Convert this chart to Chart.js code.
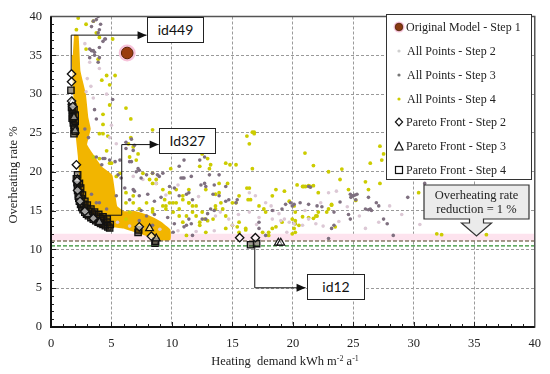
<!DOCTYPE html>
<html>
<head>
<meta charset="utf-8">
<script src="https://cdn.jsdelivr.net/npm/chart.js@4.4.1/dist/chart.umd.min.js"></script>
<style>
  body { margin: 0; background: #fff; }
  #wrap { position: relative; width: 550px; height: 374px; overflow: hidden; }
  #c { position: absolute; left: 0; top: 0; }
  .serif { font-family: "Liberation Serif", serif; color: #222; }
  .idbox { position: absolute; background: #fff; border: 1.3px solid #222; box-sizing: border-box;
    font-family: Lato, sans-serif; font-size: 14px; color: #111; text-align: center; }
  #legend { position: absolute; left: 386px; top: 14px; width: 146px; height: 166px; background: #fff;
    border: 1.5px solid #333; box-sizing: border-box; font-size: 12px; }
  #legend .row { position: absolute; left: 0; height: 16px; line-height: 16px; white-space: nowrap; }
  #legend svg { position: absolute; left: 6px; top: 2px; }
  #legend span { position: absolute; left: 19px; top: 0; }
  .ytitle { position: absolute; left: -57px; top: 167px; width: 140px; height: 16px; line-height: 16px;
    text-align: center; transform: rotate(-90deg); transform-origin: 70px 8px;
    font-size: 12.5px; white-space: nowrap; }
  .xtitle { position: absolute; left: 185px; top: 353px; width: 200px; height: 16px; line-height: 16px;
    text-align: center; font-size: 12.5px; white-space: nowrap; }
  sup { font-size: 8px; vertical-align: 4px; line-height: 0; }
</style>
</head>
<body>
<div id="wrap">
<canvas id="c" width="550" height="374"></canvas>

<div class="idbox" style="left:147px;top:17px;width:57px;height:26px;line-height:24px;">id449</div>
<div class="idbox" style="left:159px;top:128px;width:57px;height:26px;line-height:24px;">Id327</div>
<div class="idbox" style="left:307px;top:274px;width:58px;height:26px;line-height:24px;">id12</div>

<svg style="position:absolute;left:420px;top:182px;" width="115" height="60">
  <path d="M4,3 H109 V37 H63.5 V41 H71.5 L56.5,54 L41.5,41 H49.5 V37 H4 Z" fill="#ebebeb" stroke="#333" stroke-width="1.2"/>
</svg>
<div class="serif" style="position:absolute;left:424px;top:188px;width:105px;text-align:center;font-size:12.5px;line-height:14px;">Overheating rate<br>reduction = 1 %</div>

<div id="legend" class="serif">
  <div class="row" style="top:4px"><svg width="12" height="12"><circle cx="6" cy="6" r="5.5" fill="#f7c6dc"/><circle cx="6" cy="6" r="3.8" fill="#8a3a10" stroke="#4a2008" stroke-width="0.8"/></svg><span>Original Model - Step 1</span></div>
  <div class="row" style="top:28px"><svg width="12" height="12"><circle cx="6" cy="6" r="1.6" fill="#cfcfcf"/></svg><span style="left:20px">All Points - Step 2</span></div>
  <div class="row" style="top:52px"><svg width="12" height="12"><circle cx="6" cy="6" r="1.6" fill="#777"/></svg><span style="left:20px">All Points - Step 3</span></div>
  <div class="row" style="top:76px"><svg width="12" height="12"><circle cx="6" cy="6" r="1.6" fill="#cccc00"/></svg><span style="left:20px">All Points - Step 4</span></div>
  <div class="row" style="top:99px"><svg width="12" height="12"><path d="M6,2.2 L9.6,6 L6,9.8 L2.4,6 Z" fill="#fff" stroke="#111" stroke-width="1.2"/></svg><span>Pareto Front - Step 2</span></div>
  <div class="row" style="top:123px"><svg width="12" height="12"><path d="M6,2 L10,10 L2,10 Z" fill="#fff" stroke="#111" stroke-width="1.2"/></svg><span>Pareto Front - Step 3</span></div>
  <div class="row" style="top:147px"><svg width="12" height="12"><rect x="2.5" y="2.5" width="7" height="7" fill="#fff" stroke="#111" stroke-width="1.2"/></svg><span>Pareto Front - Step 4</span></div>
</div>

<div class="serif ytitle">Overheating rate %</div>
<div class="serif xtitle">Heating&nbsp; demand kWh m<sup>-2</sup> a<sup>-1</sup></div>
</div>

<script>
// values, [heating demand, overheating rate]
const originalModel = [[6.3, 35.3]];

// outline of the dense orange cloud of step 4 points
const step4Dense = [
  [1.9, 37.5], [2.2, 37.5], [2.35, 33], [2.8, 30], [3.0, 27], [3.2, 25.5], [2.9, 23.5], [3.5, 22],
  [4.2, 20.5], [5.0, 19.5], [5.2, 17.5], [5.4, 15.5], [6.0, 14.8], [7.0, 14.8], [8.0, 14.3],
  [9.0, 13.5], [9.8, 12.5], [9.8, 11.3], [8.8, 11.3], [8.0, 11.8], [7.0, 12.3], [6.0, 12.8],
  [5.0, 13.0], [4.4, 13.2], [3.5, 14.0], [3.0, 15.0], [2.6, 17.0], [2.4, 19.5], [2.3, 22],
  [2.1, 25], [2.0, 28], [1.85, 32], [1.8, 35]
];

const step4Points = [
  [2.25,39.8],[2.1,38.3],[3.5,39.4],[2.9,39.0],[3.75,37.9],[4.0,37.3],[5.1,37.1],[2.9,35.8],[3.9,34.5],[4.6,32.4],
  [5.3,32.4],[4.2,31.8],[4.85,31.2],[6.2,28.2],[6.6,26.8],[8.4,25.4],[6.6,24.4],[6.4,23.6],[4.85,28.6],[4.3,27.4],
  [4.3,26.1],[4.0,24.9],[4.6,22.7],[5.0,21.1],[9.9,20.4],[12.3,20.7],[12.5,22.3],[12.95,21.7],[14.45,21.1],[15.3,20.9],
  [16.2,24.6],[16.65,25.1],[16.8,25.1],[16.65,20.4],[11.4,17.7],[13.9,18.5],[16.8,24.9],[16.4,23.6],[13.2,20.9],[13.1,20.4],
  [14.8,20.9],[14.6,18.5],[13.6,17.1],[13.9,17.3],[16.4,17.9],[16.3,16.4],[16.5,16.4],[15.3,16.0],[17.2,15.6],[17.6,15.2],
  [17.75,14.8],[19.3,17.5],[19.7,16.2],[20.1,15.6],[20.2,14.8],[19.1,13.5],[18.6,12.9],[18.3,12.7],[18.0,12.2],[15.4,12.9],
  [15.55,12.2],[16.1,12.5],[12.3,13.5],[12.7,13.9],[12.95,13.7],[13.6,15.6],[14.05,16.0],[14.2,15.2],[10.9,16.4],[10.35,16.0],
  [11.4,16.0],[8.4,19.8],[8.7,19.0],[8.4,18.5],[9.4,16.4],[9.8,16.0],[9.25,15.6],[9.5,15.2],[11.7,14.8],[12.0,14.3],
  [10.6,14.3],[10.9,13.5],[14.45,12.7],[20.2,12.2],[19.95,12.0],[21.0,22.4],[21.7,20.8],[22.95,20.0],[24.05,20.35],[23.9,19.0],
  [26.0,18.7],[26.4,21.1],[27.2,23.3],[27.5,22.3],[27.35,21.5],[27.2,18.5],[30.4,17.3],[20.8,18.1],[21.05,18.1],[20.35,18.3],
  [22.1,17.3],[25.2,16.3],[23.2,15.8],[19.95,13.9],[20.2,13.7],[20.1,12.7],[21.3,14.1],[21.7,14.0],[22.1,14.8],[22.0,14.3],
  [22.8,14.8],[31.9,12.0],[32.3,11.9],[36.0,11.9],[18.6,17.7],[18.3,16.9],[20.9,18.1],[21.3,18.2],[21.45,18.1],[21.7,18.2],
  [23.2,15.7],[22.95,15.2],[21.9,14.3],[20.8,14.2],[23.5,12.9],[20.2,13.3],[20.5,13.1],[26.25,17.7],[24.6,17.7],[6.2,16.0],
  [6.8,16.9],[7.9,16.0],[8.4,15.2],[10.1,16.0],[10.6,15.2],[11.2,14.3],[11.7,15.6],[12.5,14.8],[13.4,13.9],[13.6,15.2],
  [14.45,14.3],[15.55,13.5],[16.1,12.7],[17.5,12.2],[18.0,11.8],[11.2,11.8],[12.3,13.1],[12.8,12.2],[15.0,13.1],[12.8,17.7],
  [15.0,16.0],[15.55,16.9],[16.2,17.9],[4.3,24.9],[4.7,24.6],[3.5,21.9],[4.0,21.7],[4.85,21.1],[5.4,19.4],[5.7,19.8],
  [6.5,21.9],[6.8,23.2],[7.05,21.5],[7.2,22.3],[7.6,19.8],[8.15,19.0],[8.7,18.5],[9.25,17.7],[9.8,17.3],[10.35,17.7],
  [10.9,16.9],[11.4,16.0],[12.0,15.6],[6.2,17.3],[6.8,16.0],[7.3,15.2],[6.5,14.8],[6.2,13.9],[8.4,14.8],[9.5,15.6],[10.1,14.8]
];

const step3Points = [
  [3.9,40],[4.1,39.0],[3.75,39.6],[4.5,37.1],[3.2,35.8],[3.5,35.6],[3.6,35.0],[4.0,34.7],[3.9,34.1],[4.0,36.0],
  [5.1,29.3],[3.75,21.9],[4.3,21.7],[6.2,23.0],[6.8,22.75],[5.7,21.5],[6.5,21.3],[7.05,20.0],[7.3,20.2],[7.9,19.6],
  [8.4,19.8],[8.95,19.4],[9.25,19.8],[10.6,20.7],[11.0,21.5],[12.3,21.5],[12.7,21.9],[13.1,19.6],[13.5,18.3],[13.9,19.6],
  [10.75,19.2],[11.0,19.2],[14.45,18.1],[8.8,19.6],[11.6,19.4],[12.4,18.3],[12.8,18.1],[12.7,18.5],[11.2,17.1],[11.4,17.3],
  [13.4,17.1],[14.45,16.2],[15.3,16.0],[15.4,16.4],[13.2,15.2],[13.5,15.0],[12.95,14.6],[12.5,13.9],[11.4,13.9],[11.6,13.3],
  [11.0,12.9],[18.3,15.0],[19.1,15.2],[19.4,15.8],[19.8,16.0],[19.95,15.6],[17.2,13.5],[10.9,19.2],[9.8,18.1],[10.2,17.9],
  [20.1,15.8],[20.6,16.0],[21.3,18.1],[21.45,18.0],[22.0,15.6],[22.4,15.5],[23.4,14.8],[23.9,16.1],[24.75,17.1],[25.0,16.9],
  [25.3,17.1],[25.2,16.4],[26.25,16.7],[26.9,16.0],[27.1,15.6],[26.0,15.2],[26.25,15.1],[26.4,15.2],[26.5,15.0],[24.6,14.5],
  [24.75,13.9],[23.4,13.1],[23.2,12.7],[28.3,11.8],[29.5,16.7],[30.9,18.5],[22.95,11.4],[24.9,16.9],[25.15,17.0],[24.8,16.7],
  [21.3,15.8],[27.5,13.9],[27.8,13.3],[4.0,16.0],[4.6,15.2],[5.4,16.9],[6.8,17.7],[7.3,16.9],[6.5,16.4],[10.6,16.9],
  [11.7,16.4],[12.8,13.9],[13.9,16.9],[14.7,16.4],[10.1,12.2],[11.2,13.1],[11.7,11.8],[17.2,12.7],[17.75,11.8],[7.3,13.7],
  [7.9,14.3],[8.4,13.1],[4.2,20.9],[4.45,21.7],[4.85,21.5],[3.35,17.1],[3.75,16.0],[3.6,15.0],[5.3,21.3],[5.55,19.6],
  [5.8,19.2],[6.2,23.8],[6.65,24.2],[6.9,23.4],[6.65,21.3],[7.2,20.4],[7.45,19.2],[6.1,17.9],[6.9,17.5],[8.0,17.1],
  [8.55,16.2],[9.1,16.7],[7.45,15.0],[8.55,14.5],[9.65,14.1],[10.2,13.3],[3.35,38.7],[3.5,39.4],[4.0,38.3],[3.9,37.9],
  [4.45,37.1],[4.3,36.8],[3.35,35.6],[3.6,35.4],[3.2,34.7],[3.6,28.0],[3.75,26.8],[2.8,25.5],[3.1,24.4]
];

const step2Points = [
  [18.4,15.0],[18.85,14.6],[19.3,13.9],[19.7,13.5],[20.1,13.3],[20.8,13.1],[21.3,13.9],[21.9,13.3],[28.0,15.6],[27.1,13.5],
  [26.0,12.7],[22.95,17.3],[23.6,17.5],[19.5,12.2],[16.4,17.3],[16.9,16.9],[17.75,16.0],[18.2,15.6],[16.4,14.8],[17.2,14.1],
  [18.3,13.9],[19.0,13.7],[13.6,14.3],[14.7,13.9],[15.0,13.1],[3.2,34.1],[4.0,33.3],[2.9,30.3],[3.5,29.5],[4.85,24.4],
  [5.4,23.6],[6.8,19.4],[7.6,19.0],[8.7,18.5],[5.5,13.5],[6.5,13.0],[7.5,12.8],[9.0,12.6],[10.5,12.4],[12.0,12.3],
  [13.5,12.4],[22.5,13.0],[23.8,13.6],[24.5,15.5],[25.5,14.3],[29.0,14.5],[30.5,13.2],[3.0,32.0],[3.3,31.0],[2.8,36.5],
  [4.6,30.0],[5.0,26.0],[9.5,17.0],[10.5,18.3],[12.2,16.8],[14.0,14.8],[15.5,14.5],[17.0,13.2],[21.0,15.0],[22.3,16.0]
];

const paretoStep2 = [
  [1.7,32.6],[1.7,31.6],[1.7,29.1],[1.8,28.4],[2.1,20.9],[2.15,18.8],[2.2,17.6],[2.4,16.2],[2.8,14.9],[3.5,14.0],
  [7.3,12.9],[8.3,11.7],[15.6,11.5],[16.9,11.5]
];
const paretoStep3 = [
  [1.75,29.0],[1.9,27.0],[2.0,25.3],[2.2,19.0],[2.3,16.8],[3.0,14.5],[4.0,13.5],[8.15,12.7],[8.7,11.4],[18.8,10.85],[19.0,10.85]
];
const paretoStep4 = [
  [1.65,30.5],[1.7,28.3],[1.75,27.9],[1.8,27.5],[1.8,27.1],[1.85,26.7],[1.85,26.3],[1.9,25.9],[1.95,25.5],[2.0,25.2],
  [1.9,28.0],[2.0,27.3],[2.0,26.5],[1.75,26.9],[1.9,24.9],[2.2,19.6],[2.1,19.1],[2.15,18.6],[2.2,18.1],[2.2,17.6],
  [2.25,17.1],[2.3,16.6],[2.35,16.2],[2.45,15.8],[2.55,15.4],[2.65,15.1],[2.8,14.8],[2.95,14.55],[3.1,14.35],[3.3,14.1],
  [3.5,13.9],[3.7,13.7],[3.9,13.5],[4.1,13.35],[4.3,13.2],[4.5,13.05],[4.7,12.9],[4.85,12.75],[2.4,17.3],[2.5,16.5],
  [2.7,15.8],[2.9,15.3],[3.15,14.9],[3.45,14.55],[3.75,14.25],[4.05,14.0],[4.35,13.75],[4.65,13.5],[4.9,13.2],[2.35,18.5],
  [2.45,17.9],[2.6,17.0],[2.8,16.2],[3.0,15.7],[3.3,15.2],[3.6,14.8],[3.95,14.5],[4.3,14.2],[4.65,13.9],
  [7.2,12.2],[7.25,12.5],[8.6,10.8],[8.65,11.05],[16.5,10.6],[17.0,10.75]
];

// 1 % reduction band and reference lines
const bandTop = 12.0, bandBottom = 11.1;
const refLineA = 11.08, refLineB = 10.45;

const xy = arr => arr.map(p => ({ x: p[0], y: p[1] }));
const hline = v => [{ x: 0, y: v }, { x: 40, y: v }];

// minor ticks, frame and the callout connectors
const decor = {
  id: 'decor',
  afterDraw(chart) {
    const ctx = chart.ctx, a = chart.chartArea;
    const xs = chart.scales.x, ys = chart.scales.y;
    ctx.save();
    ctx.strokeStyle = '#222';
    ctx.lineWidth = 1;
    for (let v = 1; v < 40; v++) {
      const len = v % 5 === 0 ? 5 : 3;
      const px = Math.round(xs.getPixelForValue(v)) + 0.5;
      ctx.beginPath(); ctx.moveTo(px, a.bottom); ctx.lineTo(px, a.bottom - len); ctx.stroke();
      const py = Math.round(ys.getPixelForValue(v)) + 0.5;
      ctx.beginPath(); ctx.moveTo(a.left, py); ctx.lineTo(a.left + len, py); ctx.stroke();
    }
    ctx.strokeStyle = '#555';
    ctx.lineWidth = 1.5;
    ctx.strokeRect(a.left, a.top, a.right - a.left, a.bottom - a.top);
    ctx.strokeStyle = '#111';
    ctx.lineWidth = 2;
    ctx.beginPath(); ctx.moveTo(a.left, a.top); ctx.lineTo(a.left, a.bottom); ctx.lineTo(a.right, a.bottom); ctx.stroke();

    const paths = [
      [[1.67, 33.0], [1.67, 37.6], [7.9, 37.6]],
      [[3.8, 14.4], [5.85, 14.4], [5.85, 23.5], [8.9, 23.5]],
      [[16.85, 10.6], [16.85, 5.05], [21.05, 5.05]]
    ];
    ctx.strokeStyle = '#111';
    ctx.fillStyle = '#111';
    ctx.lineWidth = 1;
    paths.forEach(p => {
      const pts = p.map(q => [xs.getPixelForValue(q[0]), ys.getPixelForValue(q[1])]);
      ctx.beginPath();
      pts.forEach((q, i) => i ? ctx.lineTo(q[0], q[1]) : ctx.moveTo(q[0], q[1]));
      ctx.stroke();
      const e = pts[pts.length - 1];
      ctx.beginPath();
      ctx.moveTo(e[0], e[1]); ctx.lineTo(e[0] - 9, e[1] - 4); ctx.lineTo(e[0] - 9, e[1] + 4); ctx.closePath();
      ctx.fill();
    });
    ctx.restore();
  }
};

const axisFont = { family: "'Liberation Serif', serif", size: 12.5 };

new Chart(document.getElementById('c'), {
  type: 'scatter',
  data: {
    datasets: [
      { label: 'band', type: 'line', data: hline(bandTop), fill: { value: bandBottom },
        backgroundColor: '#fde3ee', borderWidth: 0, pointRadius: 0, order: 20 },
      { label: 'Step 4 dense', type: 'line', data: xy(step4Dense), fill: 'shape', tension: 0.1,
        backgroundColor: '#f2b500', borderColor: '#f2b500', borderWidth: 2, pointRadius: 0, order: 19 },
      { label: 'All Points - Step 4', data: xy(step4Points), backgroundColor: '#cccc00', borderWidth: 0,
        pointRadius: 1.9, order: 18 },
      { label: 'All Points - Step 2', data: xy(step2Points), backgroundColor: '#dcc8d5', borderWidth: 0,
        pointRadius: 1.8, order: 17 },
      { label: 'All Points - Step 3', data: xy(step3Points), backgroundColor: '#7f7080', borderWidth: 0,
        pointRadius: 1.8, order: 16 },
      { label: 'refA', type: 'line', data: hline(refLineA), borderColor: '#4a3c1c', borderWidth: 1.2,
        borderDash: [4, 2], pointRadius: 0, fill: false, order: 15 },
      { label: 'refB', type: 'line', data: hline(refLineB), borderColor: '#2f8f2f', borderWidth: 1.2,
        borderDash: [4, 2], pointRadius: 0, fill: false, order: 14 },
      { label: 'Pareto Front - Step 4', data: xy(paretoStep4), pointStyle: 'rect', pointRadius: 4.5,
        backgroundColor: 'rgba(40,28,10,0.45)', borderColor: '#111', borderWidth: 1.3, order: 4 },
      { label: 'Pareto Front - Step 3', data: xy(paretoStep3), pointStyle: 'triangle', pointRadius: 4.5,
        backgroundColor: 'rgba(255,255,255,0.5)', borderColor: '#111', borderWidth: 1.2, order: 3 },
      { label: 'Pareto Front - Step 2', data: xy(paretoStep2), pointStyle: 'rectRot', pointRadius: 4.2,
        backgroundColor: 'rgba(255,255,255,0.6)', borderColor: '#111', borderWidth: 1.3, order: 2 },
      { label: 'halo', data: xy(originalModel), backgroundColor: '#f7c3da', borderWidth: 0,
        pointRadius: 8.5, order: 1 },
      { label: 'Original Model - Step 1', data: xy(originalModel), backgroundColor: '#9a3c0e',
        borderColor: '#5a2306', borderWidth: 1, pointRadius: 5.8, order: 0 }
    ]
  },
  options: {
    responsive: false,
    animation: false,
    devicePixelRatio: 1,
    layout: { padding: { top: 10, right: 13, left: 0, bottom: 0 } },
    plugins: { legend: { display: false }, tooltip: { enabled: false } },
    scales: {
      x: {
        type: 'linear', min: 0, max: 40,
        ticks: { stepSize: 5, font: axisFont, color: '#222', padding: 9, maxRotation: 0 },
        grid: { color: '#9a9a9a', lineWidth: 1, drawTicks: false },
        border: { display: false, dash: [3, 2] },
        afterFit: s => { s.height = 47; }
      },
      y: {
        type: 'linear', min: 0, max: 40,
        ticks: { stepSize: 5, font: axisFont, color: '#222', padding: 9 },
        grid: { color: '#9a9a9a', lineWidth: 1, drawTicks: false },
        border: { display: false, dash: [3, 2] },
        afterFit: s => { s.width = 51; }
      }
    }
  },
  plugins: [decor]
});
</script>
</body>
</html>
